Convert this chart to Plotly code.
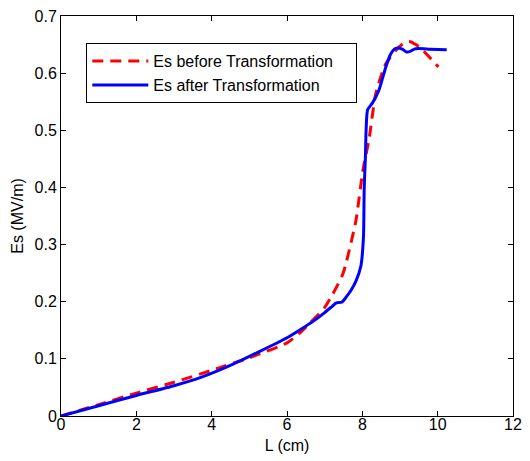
import plotly.graph_objects as go

# Es before Transformation (red dashed)
L_before = [0, 1, 2, 3, 4, 5, 6, 6.3, 6.6, 7.0, 7.22, 7.48, 7.57, 7.83, 8.01,
            8.18, 8.36, 8.62, 8.88, 9.05, 9.23, 9.42, 9.62, 9.82, 10.02]
Es_before = [0, 0.020, 0.040, 0.059, 0.080, 0.102, 0.128, 0.143, 0.162, 0.190,
             0.214, 0.248, 0.268, 0.342, 0.428, 0.485, 0.565, 0.616, 0.639,
             0.650, 0.656, 0.650, 0.639, 0.625, 0.611]

# Es after Transformation (blue solid)
L_after = [0, 1, 2, 3, 3.73, 4.51, 5.21, 6, 6.35, 6.7, 7.0, 7.2, 7.31, 7.45,
           7.57, 7.7, 7.83, 7.96, 8.03, 8.05, 8.08, 8.10, 8.14, 8.27, 8.44,
           8.62, 8.75, 8.85, 8.93, 9.06, 9.17, 9.27, 9.38, 9.49, 9.8, 10.24]
Es_after = [0, 0.018, 0.036, 0.053, 0.068, 0.089, 0.111, 0.137, 0.151, 0.166,
            0.181, 0.192, 0.198, 0.199, 0.208, 0.220, 0.236, 0.262, 0.313,
            0.40, 0.45, 0.50, 0.536, 0.548, 0.570, 0.610, 0.633, 0.642, 0.644,
            0.642, 0.637, 0.638, 0.642, 0.643, 0.642, 0.641]

x_ticks = [0, 2, 4, 6, 8, 10, 12]
y_ticks = [0, 0.1, 0.2, 0.3, 0.4, 0.5, 0.6, 0.7]
y_labels = ["0", "0.1", "0.2", "0.3", "0.4", "0.5", "0.6", "0.7"]

font = dict(family="Liberation Sans, Arial, sans-serif", size=16, color="black")
pad = "\u00a0" * 4

fig = go.Figure()
fig.add_trace(go.Scatter(x=L_before, y=Es_before, mode="lines",
                         name="Es before Transformation" + pad,
                         line=dict(color="#ff0000", width=3, dash="11px,7px",
                                   shape="spline", smoothing=0.6)))
fig.add_trace(go.Scatter(x=L_after, y=Es_after, mode="lines",
                         name="Es after Transformation",
                         line=dict(color="#0000ff", width=3,
                                   shape="spline", smoothing=0.6)))

axis_common = dict(showgrid=False, zeroline=False, showline=True, linecolor="black",
                   linewidth=1, mirror="ticks", ticks="inside", ticklen=5,
                   tickcolor="black", tickfont=font)

fig.update_layout(
    width=530, height=461,
    margin=dict(l=61, r=11, t=8, b=45),
    paper_bgcolor="white", plot_bgcolor="white",
    font=font,
    xaxis=dict(range=[0, 12], tickvals=x_ticks, ticktext=[str(t) for t in x_ticks],
               ticklabelstandoff=-6,
               title=dict(text="L (cm)", font=font, standoff=7), **axis_common),
    yaxis=dict(range=[0, 0.7], tickvals=y_ticks, ticktext=y_labels,
               title=dict(text="Es (MV/m)", font=font, standoff=6), **axis_common),
    legend=dict(x=0.056, y=0.932, xanchor="left", yanchor="top",
                bgcolor="white", bordercolor="black", borderwidth=1,
                font=font, tracegroupgap=0, itemwidth=56),
    showlegend=True,
)

fig.write_html("out.html")
